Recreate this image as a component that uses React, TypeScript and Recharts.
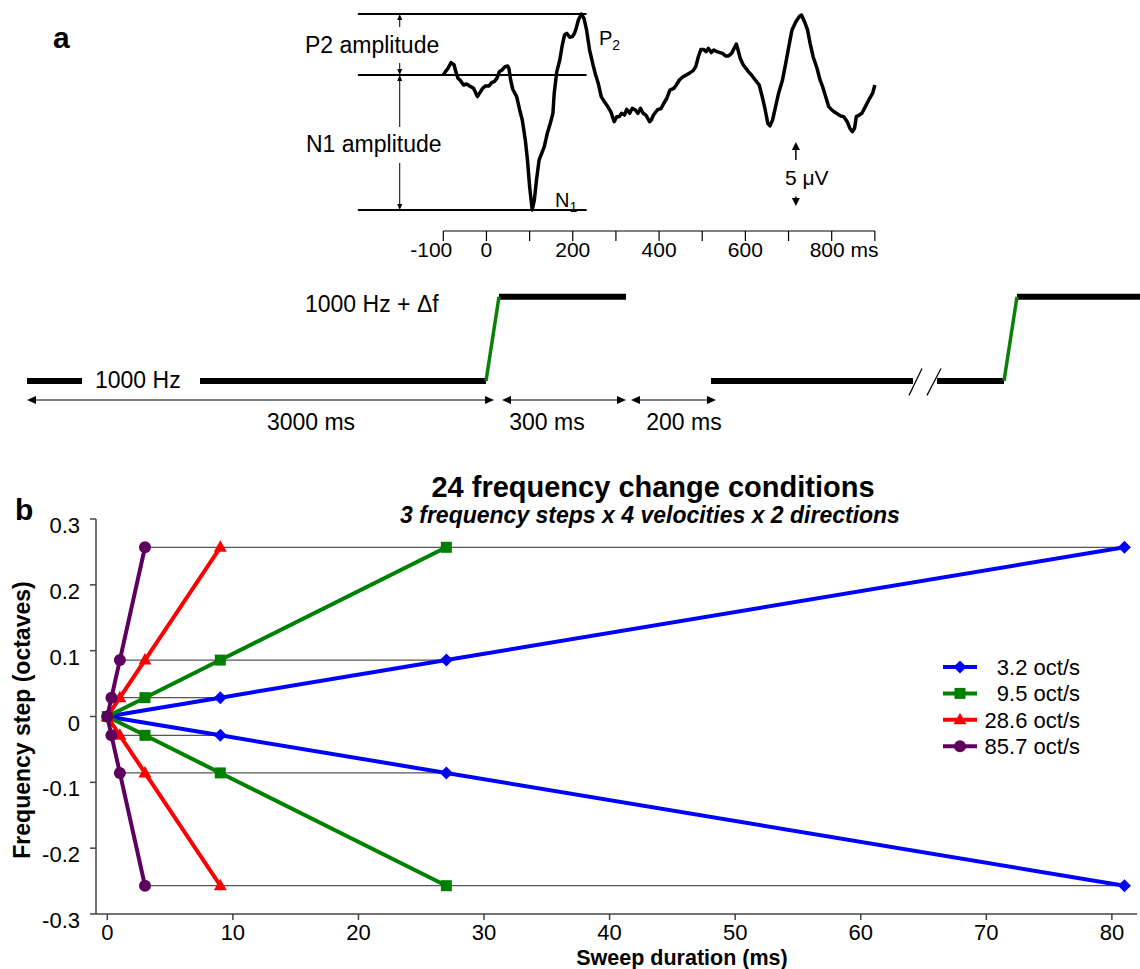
import React from "react";
import {
  LineChart,
  Line,
  XAxis,
  YAxis,
  ReferenceLine,
  ScatterChart,
  Scatter,
} from "recharts";

const FONT = '"Liberation Sans", Arial, Helvetica, sans-serif';

// ---------- panel a: averaged ERP (time in ms, amplitude in µV) ----------
const erpTrace: [number, number][] = [
  [-100, 0], [-95, 0.26], [-89, 0.52], [-82, 0.96], [-75, 0.78], [-71, 0.26], [-66, -0.26],
  [-60, -0.44], [-53, -0.78], [-46, -0.7], [-39, -0.85], [-30, -1.04], [-21, -1.68], [-15, -1.37],
  [-9, -1.04], [-2, -0.85], [6, -0.85], [12, -0.6], [18, -0.52], [24, -0.26], [30, 0.26], [36, 0.39],
  [43, 0.65], [49, 0.7], [52, 0.52], [56, -0.39], [61, -1.11], [70, -1.68], [77, -2.72], [83, -3.5],
  [90, -5.05], [95, -6.6], [100, -8.68], [106, -10.49], [111, -9.71], [116, -8.16], [122, -6.6],
  [128, -6.09], [134, -5.57], [141, -4.53], [148, -3.76], [154, -2.98], [157, -1.42], [163, 0.26],
  [170, 1.17], [175, 2.2], [181, 3.11], [186, 3.24], [193, 2.93], [199, 2.98], [204, 3.24],
  [208, 3.63], [213, 4.27], [220, 4.74], [226, 4.4], [232, 3.5], [239, 1.94], [247, 0.78], [253, 0],
  [259, -0.65], [266, -1.68], [273, -2.07], [281, -2.46], [288, -2.85], [296, -3.63], [302, -3.24],
  [308, -3.24], [313, -2.98], [320, -3.11], [325, -2.67], [332, -2.98], [338, -2.59], [345, -2.72],
  [351, -2.98], [357, -2.59], [363, -2.98], [369, -3.11], [378, -3.63], [382, -3.5], [387, -3.11],
  [396, -2.72], [405, -2.59], [411, -2.2], [418, -1.81], [425, -1.17], [434, -1.04], [440, -0.78],
  [447, -0.39], [454, -0.18], [463, 0], [472, 0.18], [479, 0.34], [485, 0.65], [491, 1.42],
  [497, 1.99], [503, 1.99], [509, 1.81], [514, 2.07], [521, 1.74], [527, 1.94], [534, 1.81],
  [541, 1.74], [547, 1.68], [554, 1.48], [561, 1.48], [568, 1.68], [574, 2.07], [579, 2.41],
  [583, 1.94], [588, 1.3], [595, 0.78], [601, 0.52], [607, 0.26], [614, 0], [623, -0.39],
  [632, -0.78], [639, -1.68], [646, -2.72], [652, -3.76], [657, -3.96], [663, -3.5], [670, -2.46],
  [677, -1.42], [686, -0.39], [695, 1.17], [702, 2.46], [708, 3.5], [717, 4.14], [726, 4.58],
  [730, 4.66], [737, 4.14], [744, 3.5], [750, 2.46], [757, 1.42], [766, 0.52], [773, -0.39],
  [779, -0.91], [786, -1.68], [793, -2.46], [802, -2.77], [811, -2.98], [821, -3.19], [828, -3.24],
  [836, -3.63], [842, -4.14], [848, -4.4], [853, -4.14], [857, -3.24], [864, -3.11], [870, -2.98],
  [878, -2.46], [886, -1.94], [895, -1.42], [900, -0.78],
];
const erpTicks = [-100, 0, 100, 200, 300, 400, 500, 600, 700, 800, 900];
const erpLabelTicks = [-100, 0, 200, 400, 600, 800];
const p2Peak = 4.74;
const n1Trough = -10.49;
const amplitudeLevels = [p2Peak, 0, n1Trough];
const amplitudeSpan = [-298, 232];
const arrowTime = -201;
const scaleBarTime = 717;
const ERP_MIN = -12.13;
const ERP_MAX = 5.44;

// ---------- panel a: stimulus schematic (schematic position, 0 = 1000 Hz, 1 = 1000 Hz + Δf) ----------
const toneSegments = [
  [{ x: 27, y: 0 }, { x: 82, y: 0 }],
  [{ x: 200, y: 0 }, { x: 486, y: 0 }],
  [{ x: 499, y: 1 }, { x: 626, y: 1 }],
  [{ x: 711, y: 0 }, { x: 913, y: 0 }],
  [{ x: 937, y: 0 }, { x: 1004, y: 0 }],
  [{ x: 1017, y: 1 }, { x: 1140, y: 1 }],
];
const sweepSegments = [
  [{ x: 486, y: 0 }, { x: 499, y: 1 }],
  [{ x: 1004, y: 0 }, { x: 1017, y: 1 }],
];
const breakMarks = [
  [{ x: 909, y: -0.17 }, { x: 922, y: 0.15 }],
  [{ x: 927, y: -0.17 }, { x: 941, y: 0.15 }],
];
const intervalArrows = [
  { from: 27, to: 494, label: "3000 ms" },
  { from: 502, to: 626, label: "300 ms" },
  { from: 631, to: 716, label: "200 ms" },
];
const intervalLevel = -0.225;

// ---------- panel b: 24 frequency change conditions ----------
const blueSweep = [
  { x: 81, y: -0.257 }, { x: 27, y: -0.0857 }, { x: 9, y: -0.0286 }, { x: 0, y: 0 },
  { x: 9, y: 0.0286 }, { x: 27, y: 0.0857 }, { x: 81, y: 0.257 },
];
const greenSweep = [
  { x: 27, y: -0.257 }, { x: 9, y: -0.0857 }, { x: 3, y: -0.0286 }, { x: 0, y: 0 },
  { x: 3, y: 0.0286 }, { x: 9, y: 0.0857 }, { x: 27, y: 0.257 },
];
const redSweep = [
  { x: 9, y: -0.257 }, { x: 3, y: -0.0857 }, { x: 1, y: -0.0286 }, { x: 0, y: 0 },
  { x: 1, y: 0.0286 }, { x: 3, y: 0.0857 }, { x: 9, y: 0.257 },
];
const purpleSweep = [
  { x: 3, y: -0.257 }, { x: 1, y: -0.0857 }, { x: 0.33, y: -0.0286 }, { x: 0, y: 0 },
  { x: 0.33, y: 0.0286 }, { x: 1, y: 0.0857 }, { x: 3, y: 0.257 },
];
const sweepSeries = [
  { name: "3.2 oct/s", color: "#0000ff", shape: "diamond", points: blueSweep },
  { name: "9.5 oct/s", color: "#008000", shape: "square", points: greenSweep },
  { name: "28.6 oct/s", color: "#ff0000", shape: "triangle", points: redSweep },
  { name: "85.7 oct/s", color: "#5e005e", shape: "circle", points: purpleSweep },
];
const guideRows = [
  { y: 0.257, from: 3, to: 81 },
  { y: 0.0857, from: 1, to: 27 },
  { y: 0.0286, from: 0.33, to: 9 },
  { y: -0.0286, from: 0.33, to: 9 },
  { y: -0.0857, from: 1, to: 27 },
  { y: -0.257, from: 3, to: 81 },
];
const xTicks = [0, 10, 20, 30, 40, 50, 60, 70, 80];
const yTicks = [-0.3, -0.2, -0.1, 0, 0.1, 0.2, 0.3];

function Marker({ kind, cx, cy, fill }: { kind: string; cx: number; cy: number; fill: string }) {
  if (kind === "diamond")
    return <polygon points={`${cx},${cy - 6.5} ${cx + 6.5},${cy} ${cx},${cy + 6.5} ${cx - 6.5},${cy}`} fill={fill} />;
  if (kind === "square") return <rect x={cx - 5.5} y={cy - 5.5} width={11} height={11} fill={fill} />;
  if (kind === "triangle")
    return <polygon points={`${cx},${cy - 7} ${cx + 6.5},${cy + 4.5} ${cx - 6.5},${cy + 4.5}`} fill={fill} />;
  return <circle cx={cx} cy={cy} r={6} fill={fill} />;
}

// line with filled arrowheads, used as a ReferenceLine shape
function arrowShape(opts: { start?: boolean; end?: boolean; len: number; wid: number; width: number }) {
  return (p: any) => {
    const { x1, y1, x2, y2 } = p;
    const d = Math.hypot(x2 - x1, y2 - y1) || 1;
    const ux = (x2 - x1) / d;
    const uy = (y2 - y1) / d;
    const head = (tx: number, ty: number, sx: number, sy: number) => {
      const bx = tx - sx * opts.len;
      const by = ty - sy * opts.len;
      const w = opts.wid / 2;
      return `${tx},${ty} ${bx - sy * w},${by + sx * w} ${bx + sy * w},${by - sx * w}`;
    };
    const a = opts.start ? opts.len * 0.7 : 0;
    const b = opts.end ? opts.len * 0.7 : 0;
    return (
      <g>
        <line x1={x1 + ux * a} y1={y1 + uy * a} x2={x2 - ux * b} y2={y2 - uy * b} stroke="#000" strokeWidth={opts.width} />
        {opts.start && <polygon points={head(x1, y1, -ux, -uy)} fill="#000" />}
        {opts.end && <polygon points={head(x2, y2, ux, uy)} fill="#000" />}
      </g>
    );
  };
}

function ErpTick({ x, y, payload }: any) {
  const v = payload.value;
  if (!erpLabelTicks.includes(v)) return null;
  if (v === 800)
    return <text x={x - 22} y={y + 16} fontSize={21} fontFamily={FONT} fill="#000">800 ms</text>;
  if (v === -100)
    return <text x={x + 9} y={y + 16} textAnchor="end" fontSize={21} fontFamily={FONT} fill="#000">-100</text>;
  return <text x={x} y={y + 16} textAnchor="middle" fontSize={21} fontFamily={FONT} fill="#000">{v}</text>;
}

function XTick({ x, y, payload }: any) {
  return <text x={x} y={y + 20} textAnchor="middle" fontSize={22} fontFamily={FONT} fill="#000">{payload.value}</text>;
}

function YTick({ x, y, payload }: any) {
  const v = payload.value;
  const label = v === 0 ? "0" : v.toFixed(1);
  return <text x={x} y={y + 14} textAnchor="end" fontSize={22} fontFamily={FONT} fill="#000">{label}</text>;
}

function ErpPanel() {
  const data = erpTrace.map(([t, v]) => ({ t, v }));
  const seg = (t1: number, v1: number, t2: number, v2: number) => [{ x: t1, y: v1 }, { x: t2, y: v2 }];
  const small = { len: 6, wid: 5, width: 1 };
  return (
    <div style={{ position: "absolute", left: 357, top: 5 }}>
      <LineChart width={540} height={266} data={data} margin={{ top: 0, right: 20, bottom: 0, left: 0 }}>
        <XAxis
          dataKey="t"
          type="number"
          domain={[-300, 905]}
          allowDataOverflow
          ticks={erpTicks}
          axisLine={false}
          tickLine={{ stroke: "#000", strokeWidth: 1.2 }}
          tickSize={10}
          tickMargin={0}
          height={40}
          tick={<ErpTick />}
        />
        <YAxis type="number" domain={[ERP_MIN, ERP_MAX]} allowDataOverflow hide />
        <ReferenceLine
          segment={[{ x: -100, y: ERP_MIN }, { x: 900, y: ERP_MIN }]}
          stroke="#000"
          strokeWidth={1.2}
          ifOverflow="visible"
        />
        {amplitudeLevels.map((lv) => (
          <ReferenceLine
            key={lv}
            segment={[{ x: amplitudeSpan[0], y: lv }, { x: amplitudeSpan[1], y: lv }]}
            stroke="#000"
            strokeWidth={2}
            ifOverflow="visible"
          />
        ))}
        <ReferenceLine segment={seg(arrowTime, 3.73, arrowTime, p2Peak)} ifOverflow="visible" shape={arrowShape({ end: true, ...small })} />
        <ReferenceLine segment={seg(arrowTime, 0.93, arrowTime, 0)} ifOverflow="visible" shape={arrowShape({ end: true, ...small })} />
        <ReferenceLine segment={seg(arrowTime, -4.04, arrowTime, 0)} ifOverflow="visible" shape={arrowShape({ end: true, ...small })} />
        <ReferenceLine segment={seg(arrowTime, -6.84, arrowTime, n1Trough)} ifOverflow="visible" shape={arrowShape({ end: true, ...small })} />
        <ReferenceLine
          segment={seg(scaleBarTime, -6.61, scaleBarTime, -5.21)}
          ifOverflow="visible"
          shape={arrowShape({ end: true, len: 8, wid: 8, width: 1.5 })}
        />
        <ReferenceLine
          segment={seg(scaleBarTime, -9.45, scaleBarTime, -10.19)}
          ifOverflow="visible"
          shape={arrowShape({ end: true, len: 8, wid: 8, width: 1.5 })}
        />
        <Line
          dataKey="v"
          type="linear"
          stroke="#000"
          strokeWidth={3.5}
          strokeLinejoin="round"
          dot={false}
          isAnimationActive={false}
        />
      </LineChart>
    </div>
  );
}

function StimulusPanel() {
  return (
    <div style={{ position: "absolute", left: 0, top: 280 }}>
      <LineChart width={1140} height={160} margin={{ top: 0, right: 0, bottom: 0, left: 0 }}>
        <XAxis dataKey="x" type="number" domain={[0, 1140]} allowDataOverflow hide />
        <YAxis type="number" domain={[-0.7, 1.2]} allowDataOverflow hide />
        {toneSegments.map((s, i) => (
          <Line key={`t${i}`} data={s} dataKey="y" stroke="#000" strokeWidth={6} dot={false} isAnimationActive={false} />
        ))}
        {sweepSegments.map((s, i) => (
          <Line key={`s${i}`} data={s} dataKey="y" stroke="#0a800a" strokeWidth={3.5} dot={false} isAnimationActive={false} />
        ))}
        {breakMarks.map((s, i) => (
          <Line key={`b${i}`} data={s} dataKey="y" stroke="#000" strokeWidth={1.2} dot={false} isAnimationActive={false} />
        ))}
        {intervalArrows.map((a) => (
          <ReferenceLine
            key={a.label}
            segment={[{ x: a.from, y: intervalLevel }, { x: a.to, y: intervalLevel }]}
            ifOverflow="visible"
            shape={arrowShape({ start: true, end: true, len: 9, wid: 8, width: 1 })}
          />
        ))}
      </LineChart>
    </div>
  );
}

function SweepPanel() {
  return (
    <div style={{ position: "absolute", left: 0, top: 470 }}>
      <ScatterChart width={1140} height={499} margin={{ top: 49, right: 3, bottom: 0, left: 0 }}>
        <XAxis
          dataKey="x"
          type="number"
          domain={[-0.9, 82]}
          allowDataOverflow
          ticks={xTicks}
          height={55}
          axisLine={{ stroke: "#444", strokeWidth: 1.5 }}
          tickLine={{ stroke: "#444", strokeWidth: 1.5 }}
          tickSize={6}
          tickMargin={0}
          tick={<XTick />}
        />
        <YAxis
          dataKey="y"
          type="number"
          domain={[-0.3, 0.3]}
          allowDataOverflow
          ticks={yTicks}
          width={96}
          axisLine={{ stroke: "#444", strokeWidth: 1.5 }}
          tickLine={{ stroke: "#444", strokeWidth: 1.5 }}
          tickSize={6}
          tickMargin={10}
          tick={<YTick />}
        />
        {guideRows.map((g, i) => (
          <Scatter
            key={`g${i}`}
            data={[{ x: g.from, y: g.y }, { x: g.to, y: g.y }]}
            fill="#555"
            line={{ stroke: "#555", strokeWidth: 1.2 }}
            shape={() => <g />}
            isAnimationActive={false}
          />
        ))}
        {sweepSeries.map((s) => (
          <Scatter
            key={s.name}
            name={s.name}
            data={s.points}
            fill={s.color}
            line={{ stroke: s.color, strokeWidth: 4 }}
            shape={(p: any) => <Marker kind={s.shape} cx={p.cx} cy={p.cy} fill={s.color} />}
            isAnimationActive={false}
          />
        ))}
      </ScatterChart>
    </div>
  );
}

function Annotations() {
  const t = { fontFamily: FONT, fill: "#000" } as const;
  return (
    <svg width={1140} height={969} style={{ position: "absolute", left: 0, top: 0, pointerEvents: "none" }}>
      <text x={53} y={48} fontSize={30} fontWeight="bold" {...t}>a</text>
      <text x={305} y={53} fontSize={23} {...t}>P2 amplitude</text>
      <text x={306} y={152} fontSize={23} {...t}>N1 amplitude</text>
      <text x={599} y={45} fontSize={20} {...t}>
        P<tspan fontSize={14} dy={5}>2</tspan>
      </text>
      <text x={555} y={207} fontSize={20} {...t}>
        N<tspan fontSize={14} dy={5}>1</tspan>
      </text>
      <text x={785} y={185} fontSize={21} {...t}>5 μV</text>

      <text x={95} y={388} fontSize={23} {...t}>1000 Hz</text>
      <text x={305} y={312} fontSize={23} {...t}>1000 Hz + Δf</text>
      <text x={311} y={430} fontSize={23} textAnchor="middle" {...t}>3000 ms</text>
      <text x={547} y={430} fontSize={23} textAnchor="middle" {...t}>300 ms</text>
      <text x={684} y={430} fontSize={23} textAnchor="middle" {...t}>200 ms</text>

      <text x={15} y={520} fontSize={30} fontWeight="bold" {...t}>b</text>
      <text x={653} y={497} fontSize={29} fontWeight="bold" textAnchor="middle" {...t}>
        24 frequency change conditions
      </text>
      <text x={650} y={523} fontSize={23} fontWeight="bold" fontStyle="italic" textAnchor="middle" {...t}>
        3 frequency steps x 4 velocities x 2 directions
      </text>
      <text transform="translate(30,720) rotate(-90)" fontSize={23} fontWeight="bold" textAnchor="middle" {...t}>
        Frequency step (octaves)
      </text>
      <text x={682} y={965} fontSize={21.5} fontWeight="bold" textAnchor="middle" {...t}>
        Sweep duration (ms)
      </text>

      {sweepSeries.map((s, i) => {
        const cy = 667 + i * 26.4;
        return (
          <g key={s.name}>
            <line x1={943} y1={cy} x2={977} y2={cy} stroke={s.color} strokeWidth={4} />
            <Marker kind={s.shape} cx={960} cy={cy} fill={s.color} />
            <text x={1080} y={cy + 8} fontSize={22} textAnchor="end" {...t}>{s.name}</text>
          </g>
        );
      })}
    </svg>
  );
}

export default function App() {
  return (
    <div style={{ position: "relative", width: 1140, height: 969, background: "#fff", fontFamily: FONT, overflow: "hidden" }}>
      <style>{"body{margin:0}"}</style>
      <ErpPanel />
      <StimulusPanel />
      <SweepPanel />
      <Annotations />
    </div>
  );
}
